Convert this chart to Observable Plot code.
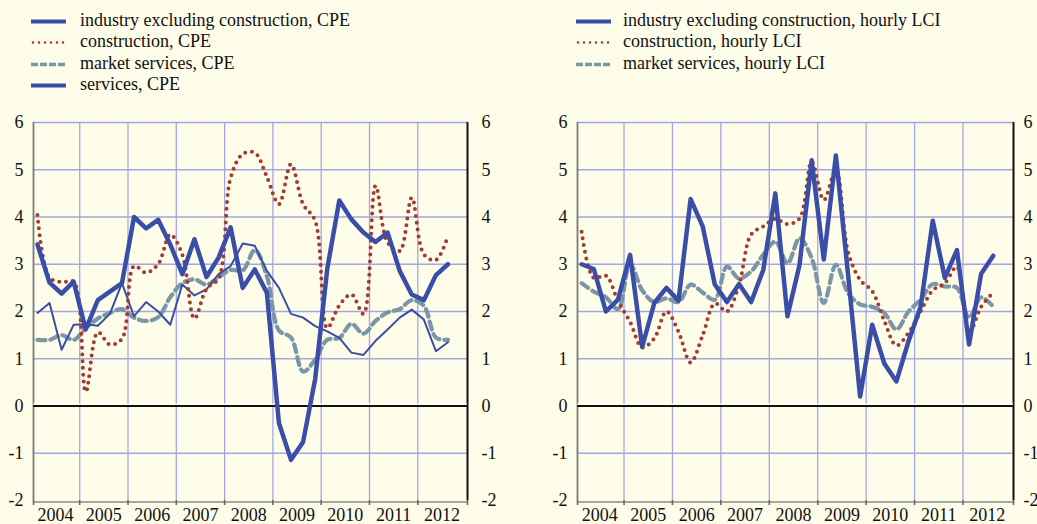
<!DOCTYPE html>
<html>
<head>
<meta charset="utf-8">
<script src="https://cdn.jsdelivr.net/npm/d3@7"></script>
<script src="https://cdn.jsdelivr.net/npm/@observablehq/plot@0.6"></script>
<style>
  html, body { margin: 0; padding: 0; background: #fefdea; }
  #page { position: relative; width: 1037px; height: 524px; overflow: hidden; background: #fefdea;
          font-family: "Liberation Serif", "Times New Roman", serif; color: #111; }
  .legend { position: absolute; top: 10px; }
  .row { position: relative; height: 21.3px; font-size: 18px; line-height: 21.3px; white-space: nowrap; }
  .row svg { position: absolute; left: 0; top: 0; }
  .row span { position: absolute; }
  .panel { position: absolute; top: 100px; }
</style>
</head>
<body>
<div id="page">
  <div class="legend" id="legL" style="left:31px;"></div>
  <div class="legend" id="legR" style="left:576px;"></div>
  <div class="panel" id="left" style="left:0px;"></div>
  <div class="panel" id="right" style="left:520px;"></div>
</div>
<script>
// ---------- data ----------
const quarters = ["2004Q1","2004Q2","2004Q3","2004Q4","2005Q1","2005Q2","2005Q3","2005Q4",
  "2006Q1","2006Q2","2006Q3","2006Q4","2007Q1","2007Q2","2007Q3","2007Q4",
  "2008Q1","2008Q2","2008Q3","2008Q4","2009Q1","2009Q2","2009Q3","2009Q4",
  "2010Q1","2010Q2","2010Q3","2010Q4","2011Q1","2011Q2","2011Q3","2011Q4",
  "2012Q1","2012Q2","2012Q3"];
const years = [2004, 2005, 2006, 2007, 2008, 2009, 2010, 2011, 2012];
const yTicks = [-2, -1, 0, 1, 2, 3, 4, 5, 6];

// left panel: compensation per employee (CPE)
const industryCPE = [3.42, 2.61, 2.38, 2.63, 1.62, 2.24, 2.42, 2.6, 4.0, 3.76, 3.94, 3.42, 2.79, 3.53, 2.73, 3.14, 3.78, 2.5, 2.89, 2.4, -0.36, -1.14, -0.76, 0.57, 2.9, 4.35, 3.95, 3.67, 3.47, 3.67, 2.86, 2.36, 2.24, 2.77, 3.0];
const constructionCPE = [4.04, 2.72, 2.62, 2.63, 0.3, 1.56, 1.3, 1.42, 2.96, 2.82, 3.0, 3.63, 3.2, 1.85, 2.48, 2.7, 4.83, 5.33, 5.36, 4.85, 4.27, 5.12, 4.27, 3.92, 1.65, 2.13, 2.36, 1.95, 4.66, 3.46, 3.28, 4.41, 3.21, 3.09, 3.6];
const marketCPE = [1.4, 1.4, 1.5, 1.4, 1.65, 1.85, 1.97, 2.05, 1.87, 1.8, 1.88, 2.3, 2.6, 2.68, 2.57, 2.72, 2.88, 2.87, 3.3, 2.75, 1.6, 1.45, 0.73, 0.98, 1.4, 1.44, 1.74, 1.53, 1.8, 1.98, 2.05, 2.24, 2.12, 1.45, 1.4];
const servicesCPE = [1.97, 2.18, 1.19, 1.72, 1.73, 1.7, 1.95, 2.6, 1.9, 2.2, 2.0, 1.72, 2.57, 2.34, 2.47, 2.79, 2.96, 3.44, 3.39, 2.86, 2.5, 1.95, 1.87, 1.69, 1.58, 1.44, 1.13, 1.08, 1.38, 1.62, 1.87, 2.04, 1.83, 1.16, 1.35];

// right panel: hourly labour cost index (LCI)
const industryLCI = [3.0, 2.9, 2.0, 2.25, 3.2, 1.25, 2.18, 2.5, 2.23, 4.38, 3.8, 2.57, 2.2, 2.58, 2.2, 2.88, 4.5, 1.9, 2.99, 5.2, 3.1, 5.3, 2.8, 0.2, 1.72, 0.9, 0.52, 1.37, 2.1, 3.92, 2.71, 3.3, 1.3, 2.8, 3.18];
const constructionLCI = [3.69, 2.71, 2.76, 2.22, 1.78, 1.24, 1.43, 2.0, 1.57, 0.92, 1.5, 2.17, 2.0, 2.57, 3.63, 3.8, 3.96, 3.85, 3.97, 5.17, 4.36, 5.0, 3.27, 2.67, 2.43, 1.8, 1.28, 1.55, 2.0, 2.45, 2.6, 2.95, 1.55, 2.1, 2.4];
const marketLCI = [2.6, 2.42, 2.3, 2.05, 3.0, 2.45, 2.2, 2.28, 2.2, 2.57, 2.4, 2.25, 2.95, 2.7, 2.85, 3.2, 3.48, 3.02, 3.55, 3.13, 2.18, 2.99, 2.39, 2.15, 2.1, 1.97, 1.62, 2.0, 2.25, 2.58, 2.53, 2.5, 1.87, 2.3, 2.1];

const namesL = ["industry excluding construction, CPE", "construction, CPE", "market services, CPE", "services, CPE"];
const namesR = ["industry excluding construction, hourly LCI", "construction, hourly LCI", "market services, hourly LCI"];

// ---------- styles ----------
const BLUE = "#3a4ea8", RED = "#a33b2f", GREY = "#7b96a7", GRID = "#a3a6e6";
const styles = [
  {stroke: BLUE, strokeWidth: 4.5, curve: "linear"},
  {stroke: RED, strokeWidth: 4, strokeDasharray: "0 6.8", strokeLinecap: "round", curve: "catmull-rom"},
  {stroke: GREY, strokeWidth: 4.2, strokeDasharray: "8 5", curve: "catmull-rom"},
  {stroke: BLUE, strokeWidth: 2, curve: "linear"}
];

const toT = s => +s.slice(0, 4) + (+s[5] - 0.5) / 4;
const rows = arr => quarters.map((q, i) => ({t: toT(q), v: arr[i]}));

function panel(seriesList, order, xDomain, width, mL, mR, padR) {
  const marks = [
    Plot.ruleY(yTicks.filter(d => d !== 0 && d !== -2), {stroke: GRID, strokeWidth: 1.3}),
    Plot.ruleX(years.slice(1), {y1: -2, y2: 6, stroke: GRID, strokeWidth: 1.3}),
    Plot.ruleX([xDomain[0]], {y1: -2, y2: 6, stroke: "#7a7a7a", strokeWidth: 1.8}),
    Plot.ruleX([xDomain[1]], {y1: -2, y2: 6, stroke: "#111", strokeWidth: 2}),
    Plot.ruleY([0], {stroke: "#fff", strokeWidth: 1.2, dy: -1.8}),
    Plot.ruleY([0], {stroke: "#111", strokeWidth: 2}),
    Plot.ruleY([-2], {stroke: "#8a8a8a", strokeWidth: 1.6, dy: 1.5}),
    Plot.axisX({ticks: [xDomain[0], ...years.slice(1), xDomain[1]], tickSize: 5, tickFormat: () => "", label: null, stroke: "#666", strokeWidth: 1.6}),
    Plot.axisX({ticks: years.map(y => y + 0.5), tickSize: 0, tickPadding: 8, label: null, tickFormat: d => String(Math.floor(d)), fontSize: 18}),
    Plot.axisY({anchor: "left", ticks: yTicks, tickSize: 0, tickPadding: 10, label: null, tickFormat: d => String(d), fontSize: 18}),
    Plot.axisY({anchor: "right", ticks: yTicks, tickSize: 0, tickPadding: padR, label: null, tickFormat: d => String(d), fontSize: 18})
  ];
  for (const i of order) {
    marks.push(Plot.line(rows(seriesList[i]), {x: "t", y: "v", ...styles[i]}));
  }
  return Plot.plot({
    width, height: 424,
    marginLeft: mL, marginRight: mR, marginTop: 22, marginBottom: 24,
    x: {domain: xDomain, axis: null},
    y: {domain: [-2, 6], axis: null},
    style: {background: "transparent", fontFamily: "'Liberation Serif', 'Times New Roman', serif", fontSize: "18px", color: "#111", overflow: "visible"},
    marks
  });
}

document.getElementById("left").append(
  panel([industryCPE, constructionCPE, marketCPE, servicesCPE], [2, 3, 1, 0], [2004.0435, 2013.029], 520, 33, 53, 14));
document.getElementById("right").append(
  panel([industryLCI, constructionLCI, marketLCI], [2, 1, 0], [2004.039, 2013.043], 517, 57, 24, 10));

// ---------- legends ----------
function legend(el, names, textLeft) {
  names.forEach((name, i) => {
    const st = styles[i];
    const row = document.createElement("div");
    row.className = "row";
    const dash = st.strokeDasharray ? ` stroke-dasharray="${i === 1 ? "0 6" : "7 2"}"` : "";
    const cap = st.strokeLinecap ? ` stroke-linecap="${st.strokeLinecap}"` : "";
    const sw = i === 1 ? 2.6 : (i === 2 ? 3.6 : 4);
    row.innerHTML = `<svg width="40" height="21.3"><line x1="${i === 1 ? 2 : 0}" x2="35" y1="11.5" y2="11.5" stroke="${st.stroke}" stroke-width="${sw}"${dash}${cap}/></svg><span style="left:${textLeft}px">${name}</span>`;
    el.append(row);
  });
}
legend(document.getElementById("legL"), namesL, 49);
legend(document.getElementById("legR"), namesR, 47);
</script>
</body>
</html>
